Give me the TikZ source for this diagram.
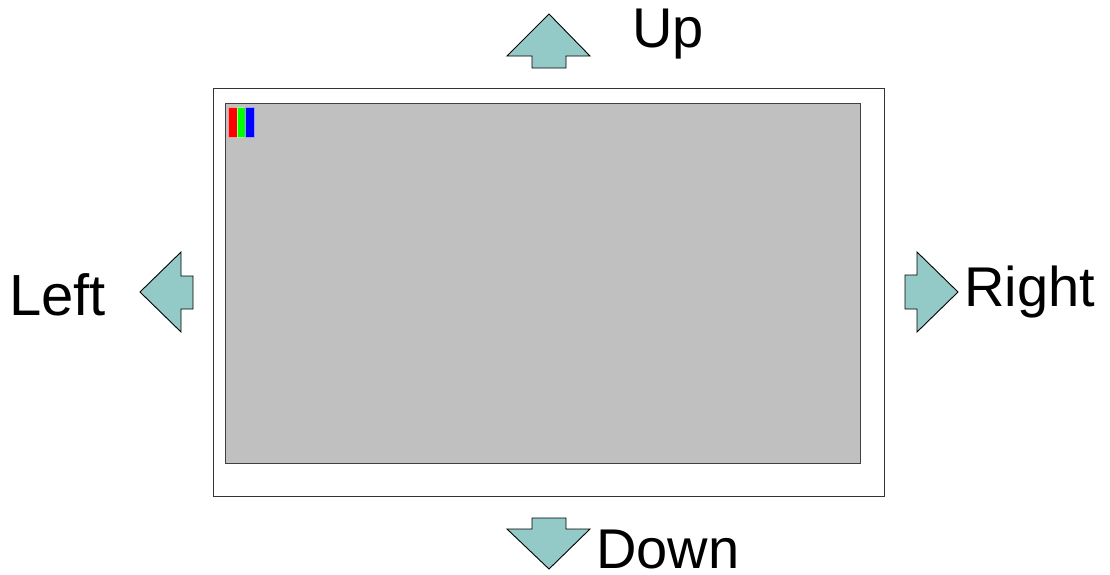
\documentclass[tikz,border=0pt]{standalone}
\usepackage{fontspec}
\setmainfont{Liberation Sans}
\usepackage{tikz}
\usetikzlibrary{arrows.meta}

\definecolor{arrowfill}{RGB}{147,201,199}
\definecolor{screengrey}{RGB}{192,192,192}

\begin{document}
\begin{tikzpicture}[x=1pt,y=-1pt]
\tikzset{arrowshape/.style={fill=arrowfill,draw=black,line width=0.9pt,line join=miter}}
\tikzstyle{box} =[rectangle,anchor=north west,inner sep=0pt,line width=1.2pt]
\tikzstyle{word} =[anchor=base west,inner sep=0pt,text depth=0pt,font=\fontsize{56}{62}\selectfont]
\useasboundingbox (0,0) rectangle (1110,574);

% monitor
\node[box,draw=black!80,fill=white,minimum width=671pt,minimum height=408pt](frame) at (213,88){};
\node[box,draw=black!75,fill=screengrey,minimum width=635pt,minimum height=360pt](screen) at (225,103){};
\node[box,draw=red!40,fill=red,line width=0.6pt,minimum width=9pt,minimum height=30pt](r) at (228,107){};
\node[box,draw=green!40,fill=green,line width=0.6pt,minimum width=8pt,minimum height=30pt](g) at (237,107){};
\node[box,draw=blue!40,fill=blue,line width=0.6pt,minimum width=9pt,minimum height=30pt](b) at (245,107){};

% arrows
\draw[arrowshape] (549,14) -- (590,56) -- (566,56) -- (566,68) -- (532,68) -- (532,56) -- (507,56) -- cycle;
\draw[arrowshape] (549,569) -- (590,529) -- (566,529) -- (566,518) -- (532,518) -- (532,529) -- (507,529) -- cycle;
\draw[arrowshape] (140,292) -- (181,252) -- (181,276) -- (193,276) -- (193,309) -- (181,309) -- (181,332) -- cycle;
\draw[arrowshape] (958,292) -- (917,252) -- (917,275) -- (905,275) -- (905,309) -- (917,309) -- (917,332) -- cycle;

% labels
\node[word](up) at (632,47){Up};
\node[word](down) at (596,568){Down};
\node[word,font=\fontsize{58}{64}\selectfont](left) at (9,315){Left};
\node[word](right) at (964,306){Right};
\end{tikzpicture}
\end{document}
